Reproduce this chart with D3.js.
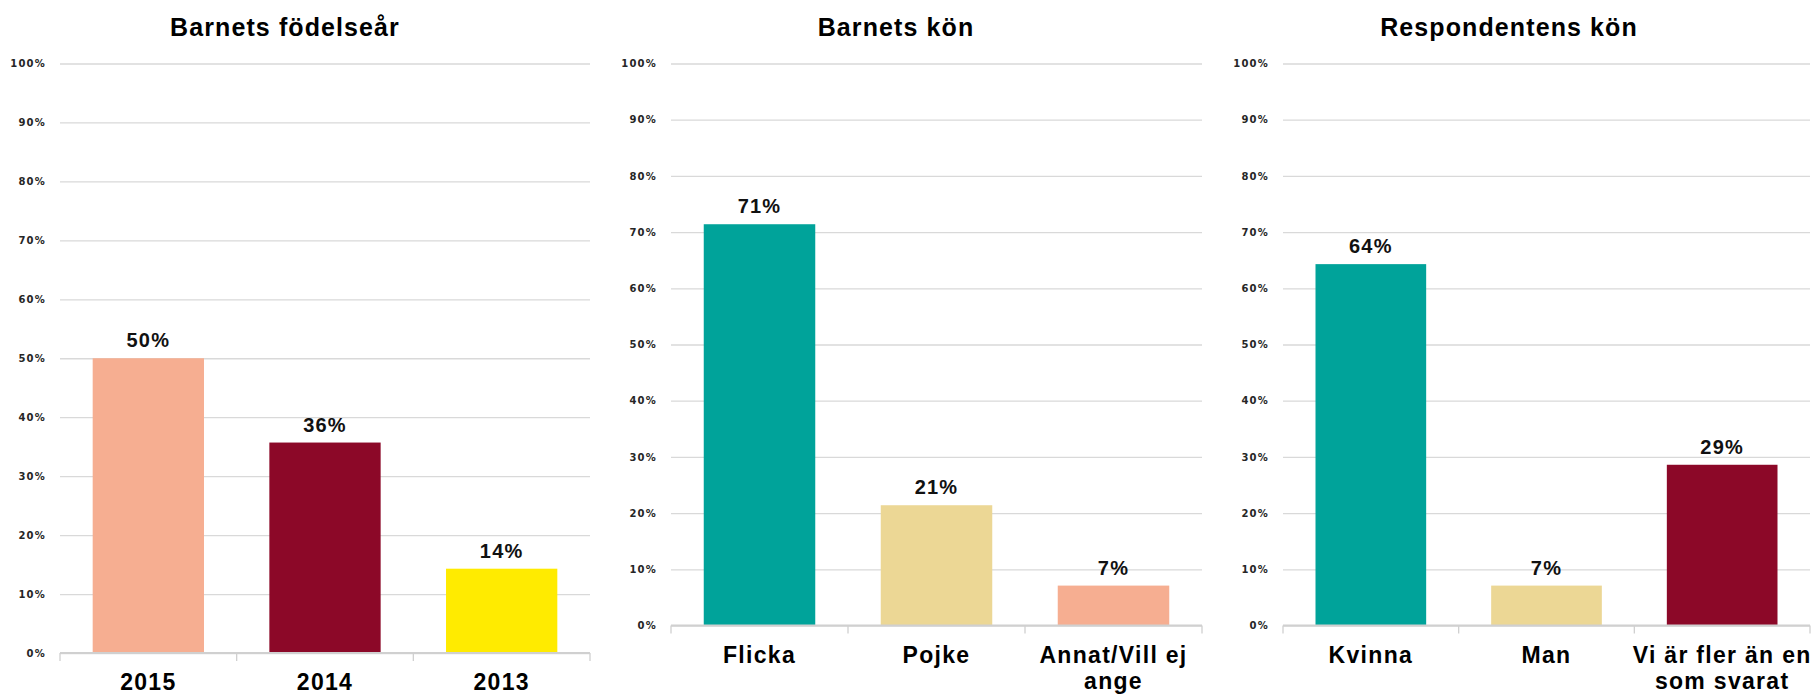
<!DOCTYPE html>
<html>
<head>
<meta charset="utf-8">
<script src="https://cdn.jsdelivr.net/npm/d3@7"></script>
<style>
  html, body { margin: 0; padding: 0; background: #ffffff; }
  svg { display: block; }
</style>
</head>
<body>
<svg id="chart" width="1813" height="694"></svg>
<script>
// ---- Data ----
const titles = ["Barnets födelseår", "Barnets kön", "Respondentens kön"];

const categoriesBirthYear = ["2015", "2014", "2013"];
const valuesBirthYear = [50.0, 35.7, 14.3];
const colorsBirthYear = ["#F6AE91", "#8C0828", "#FFEB00"];

const categoriesChildSex = ["Flicka", "Pojke", "Annat/Vill ej ange"];
const valuesChildSex = [71.4, 21.4, 7.1];
const colorsChildSex = ["#00A39A", "#ECD795", "#F6AE91"];

const categoriesRespondent = ["Kvinna", "Man", "Vi är fler än en som svarat"];
const valuesRespondent = [64.3, 7.1, 28.6];
const colorsRespondent = ["#00A39A", "#ECD795", "#8C0828"];

const yTickValues = [0, 10, 20, 30, 40, 50, 60, 70, 80, 90, 100];

// ---- Layout ----
const panels = [
  { title: titles[0], cats: categoriesBirthYear, vals: valuesBirthYear, cols: colorsBirthYear,
    x0: 60, x1: 590, yTop: 63.5, yBase: 653, titleX: 285 },
  { title: titles[1], cats: categoriesChildSex, vals: valuesChildSex, cols: colorsChildSex,
    x0: 671, x1: 1202, yTop: 63.5, yBase: 625.5, titleX: 896 },
  { title: titles[2], cats: categoriesRespondent, vals: valuesRespondent, cols: colorsRespondent,
    x0: 1283, x1: 1810, yTop: 63.5, yBase: 625.5, titleX: 1509 }
];

const svg = d3.select("#chart");
const condensed = "'Liberation Sans Narrow', 'Liberation Sans', Arial, sans-serif";

function wrapText(textSel, maxWidth, lineHeight) {
  textSel.each(function () {
    const t = d3.select(this);
    const words = t.text().split(/\s+/);
    t.text(null);
    let line = [];
    let tspan = t.append("tspan").attr("x", 0).attr("dy", 0);
    for (const w of words) {
      line.push(w);
      tspan.text(line.join(" "));
      if (tspan.node().getComputedTextLength() > maxWidth && line.length > 1) {
        line.pop();
        tspan.text(line.join(" "));
        line = [w];
        tspan = t.append("tspan").attr("x", 0).attr("dy", lineHeight).text(w);
      }
    }
  });
}

panels.forEach(p => {
  const g = svg.append("g");

  const x = d3.scaleBand()
    .domain(p.cats)
    .range([p.x0, p.x1])
    .paddingInner(0.37)
    .paddingOuter(0.185);

  const y = d3.scaleLinear()
    .domain([0, 100])
    .range([p.yBase, p.yTop]);

  // Title
  g.append("text")
    .attr("x", p.titleX)
    .attr("y", 36)
    .attr("text-anchor", "middle")
    .style("font-family", condensed)
    .style("font-weight", "bold")
    .style("font-size", "25px")
    .style("letter-spacing", "1.1px")
    .attr("fill", "#000")
    .text(p.title);

  // Y axis with gridlines
  const yAxis = d3.axisLeft(y)
    .tickValues(yTickValues)
    .tickFormat(d => d + "%")
    .tickSize(-(p.x1 - p.x0))
    .tickPadding(14);

  const ya = g.append("g")
    .attr("transform", `translate(${p.x0},0)`)
    .call(yAxis);
  ya.select(".domain").remove();
  ya.selectAll(".tick line")
    .attr("stroke", "#D9D9D9")
    .attr("stroke-width", 1.3);
  ya.selectAll(".tick text")
    .style("font-family", "'DejaVu Sans', sans-serif")
    .style("font-weight", "bold")
    .style("font-size", "10px")
    .style("letter-spacing", "1.2px")
    .attr("fill", "#262626");

  // Bars
  g.selectAll("rect.bar")
    .data(p.cats.map((c, i) => ({ c, v: p.vals[i], col: p.cols[i] })))
    .join("rect")
    .attr("class", "bar")
    .attr("x", d => x(d.c))
    .attr("width", x.bandwidth())
    .attr("y", d => y(d.v))
    .attr("height", d => y(0) - y(d.v))
    .attr("fill", d => d.col);

  // Value labels
  g.selectAll("text.val")
    .data(p.cats.map((c, i) => ({ c, v: p.vals[i] })))
    .join("text")
    .attr("class", "val")
    .attr("x", d => x(d.c) + x.bandwidth() / 2)
    .attr("y", d => y(d.v) - 11)
    .attr("text-anchor", "middle")
    .style("font-family", condensed)
    .style("font-weight", "bold")
    .style("font-size", "20px")
    .style("letter-spacing", "1.2px")
    .attr("fill", "#111")
    .text(d => Math.round(d.v) + "%");

  // X axis: baseline + ticks at band boundaries
  const xAxis = d3.axisBottom(x).tickSize(0).tickPadding(0);
  const xa = g.append("g")
    .attr("transform", `translate(0,${y(0)})`)
    .call(xAxis);
  xa.select(".domain").remove();

  xa.append("line")
    .attr("x1", p.x0).attr("x2", p.x1)
    .attr("y1", 0).attr("y2", 0)
    .attr("stroke", "#D0D0D0")
    .attr("stroke-width", 2);

  const boundaries = p.cats.map(c => x(c) - x.step() * x.paddingInner() / 2);
  boundaries[0] = p.x0;
  boundaries.push(p.x1);
  xa.selectAll("line.bt")
    .data(boundaries)
    .join("line")
    .attr("class", "bt")
    .attr("x1", d => d).attr("x2", d => d)
    .attr("y1", 0).attr("y2", 8)
    .attr("stroke", "#D0D0D0")
    .attr("stroke-width", 1.3);

  xa.selectAll(".tick text")
    .attr("y", 37)
    .attr("dy", 0)
    .style("font-family", condensed)
    .style("font-weight", "bold")
    .style("font-size", "23px")
    .style("letter-spacing", "1.3px")
    .attr("fill", "#000")
    .call(wrapText, 200, 26);
});
</script>
</body>
</html>
